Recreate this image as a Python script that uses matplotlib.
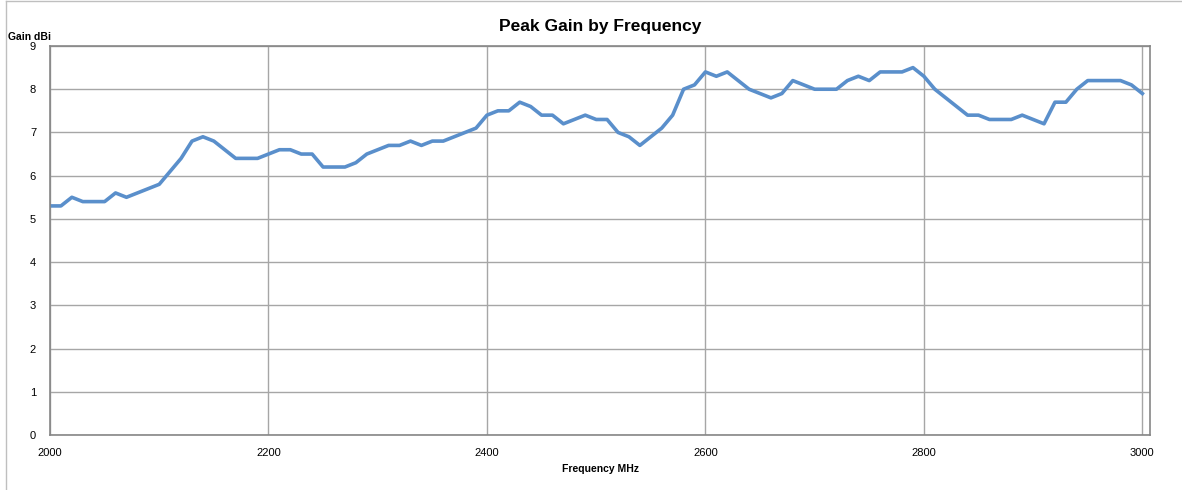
import numpy as np
import matplotlib
matplotlib.use("Agg")
import matplotlib.pyplot as plt
from matplotlib.lines import Line2D

# frequency in MHz, 10 MHz steps
freq = list(range(2000, 3001, 10))
gain = [5.3, 5.3, 5.5, 5.4, 5.4, 5.4, 5.6, 5.5, 5.6, 5.7,
        5.8, 6.1, 6.4, 6.8, 6.9, 6.8, 6.6, 6.4, 6.4, 6.4,
        6.5, 6.6, 6.6, 6.5, 6.5, 6.2, 6.2, 6.2, 6.3, 6.5,
        6.6, 6.7, 6.7, 6.8, 6.7, 6.8, 6.8, 6.9, 7.0, 7.1,
        7.4, 7.5, 7.5, 7.7, 7.6, 7.4, 7.4, 7.2, 7.3, 7.4,
        7.3, 7.3, 7.0, 6.9, 6.7, 6.9, 7.1, 7.4, 8.0, 8.1,
        8.4, 8.3, 8.4, 8.2, 8.0, 7.9, 7.8, 7.9, 8.2, 8.1,
        8.0, 8.0, 8.0, 8.2, 8.3, 8.2, 8.4, 8.4, 8.4, 8.5,
        8.3, 8.0, 7.8, 7.6, 7.4, 7.4, 7.3, 7.3, 7.3, 7.4,
        7.3, 7.2, 7.7, 7.7, 8.0, 8.2, 8.2, 8.2, 8.2, 8.1,
        7.9]

plt.rcParams['font.family'] = ['Liberation Sans', 'DejaVu Sans']

fig = plt.figure(figsize=(11.82, 4.90), dpi=100)
ax = fig.add_axes([50/1182, 1 - 435/490, 1100/1182, (435-46)/490])

ax.plot(freq, gain, color='#5a8fcb', linewidth=2.6, solid_joinstyle='round')

ax.set_xlim(2000, 3007)
ax.set_ylim(0, 9)
ax.set_xticks(range(2000, 3001, 200))
ax.set_yticks(range(0, 10))
ax.grid(True, color='#a6a6a6', linewidth=1.0)
ax.set_axisbelow(True)
for s in ax.spines.values():
    s.set_color('#868686')
    s.set_linewidth(1.2)
ax.tick_params(axis='both', labelsize=8, length=0, pad=9, colors='#000000')
ax.tick_params(axis='y', pad=10)

ax.set_title('Peak Gain by Frequency', fontsize=12.5, fontweight='bold', pad=11)
ax.set_xlabel('Frequency MHz', fontsize=7.5, fontweight='bold', labelpad=5)
fig.text(8/1182, 1 - 37/490, 'Gain dBi', fontsize=7.5, fontweight='bold', va='center')

# outer chart border (left and top visible)
fig.add_artist(Line2D([6/1182, 6/1182], [0, 1 - 1/490], color='#bfbfbf', linewidth=1))
fig.add_artist(Line2D([6/1182, 1], [1 - 1/490, 1 - 1/490], color='#bfbfbf', linewidth=1))

fig.savefig('out.png', dpi=100)
